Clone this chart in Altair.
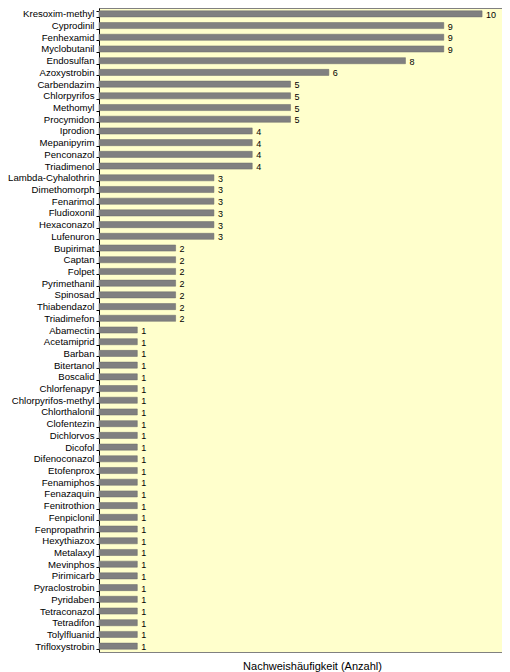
import altair as alt
import pandas as pd

substances = [
    "Kresoxim-methyl", "Cyprodinil", "Fenhexamid", "Myclobutanil", "Endosulfan",
    "Azoxystrobin", "Carbendazim", "Chlorpyrifos", "Methomyl", "Procymidon",
    "Iprodion", "Mepanipyrim", "Penconazol", "Triadimenol", "Lambda-Cyhalothrin",
    "Dimethomorph", "Fenarimol", "Fludioxonil", "Hexaconazol", "Lufenuron",
    "Bupirimat", "Captan", "Folpet", "Pyrimethanil", "Spinosad", "Thiabendazol",
    "Triadimefon", "Abamectin", "Acetamiprid", "Barban", "Bitertanol", "Boscalid",
    "Chlorfenapyr", "Chlorpyrifos-methyl", "Chlorthalonil", "Clofentezin",
    "Dichlorvos", "Dicofol", "Difenoconazol", "Etofenprox", "Fenamiphos",
    "Fenazaquin", "Fenitrothion", "Fenpiclonil", "Fenpropathrin", "Hexythiazox",
    "Metalaxyl", "Mevinphos", "Pirimicarb", "Pyraclostrobin", "Pyridaben",
    "Tetraconazol", "Tetradifon", "Tolylfluanid", "Trifloxystrobin",
]
counts = [
    10, 9, 9, 9, 8,
    6, 5, 5, 5, 5,
    4, 4, 4, 4, 3,
    3, 3, 3, 3, 3,
    2, 2, 2, 2, 2, 2,
    2, 1, 1, 1, 1, 1,
    1, 1, 1, 1,
    1, 1, 1, 1, 1,
    1, 1, 1, 1, 1,
    1, 1, 1, 1, 1,
    1, 1, 1, 1,
]

df = pd.DataFrame({"Substanz": substances, "Anzahl": counts})

FONT = "Liberation Sans"

y_enc = alt.Y(
    "Substanz:N",
    sort=substances,
    title=None,
    scale=alt.Scale(paddingInner=0.48, paddingOuter=0.24),
    axis=alt.Axis(
        labelFont=FONT,
        labelFontSize=9.6,
        labelColor="#000000",
        labelPadding=2,
        tickSize=3,
        tickColor="#000000",
        tickBand="extent",
        domainColor="#000000",
        labelLimit=200,
    ),
)

x_enc = alt.X(
    "Anzahl:Q",
    scale=alt.Scale(domain=[0, 10.52], nice=False, zero=True),
    axis=alt.Axis(
        title="Nachweishäufigkeit (Anzahl)",
        labels=False,
        ticks=False,
        domain=False,
        grid=False,
        titleFont=FONT,
        titleFontSize=11,
        titleFontWeight="normal",
        titleColor="#000000",
        titleX=213,
        titleY=17,
        titleBaseline="alphabetic",
        titleAnchor="middle",
        titleAlign="center",
    ),
)

bars = alt.Chart(df).mark_bar(
    color="#808080", stroke="#6a6a6a", strokeWidth=0.5
).encode(x=x_enc, y=y_enc)

labels = alt.Chart(df).mark_text(
    align="left", baseline="middle", dx=4, dy=1, font=FONT, fontSize=9, color="#000000"
).encode(
    x=alt.X("Anzahl:Q"),
    y=alt.Y("Substanz:N", sort=substances),
    text=alt.Text("Anzahl:Q"),
)

chart = (
    alt.layer(bars, labels)
    .properties(
        width=403,
        height=644,
        autosize=alt.AutoSizeParams(type="none"),
        padding={"left": 91, "top": 0, "right": 0, "bottom": 26},
        background="#ffffff",
    )
    .configure_view(fill="#FFFFCC", stroke="#808080", strokeWidth=1)
)

chart.save("out.html", embed_options={"renderer": "svg", "actions": False})
